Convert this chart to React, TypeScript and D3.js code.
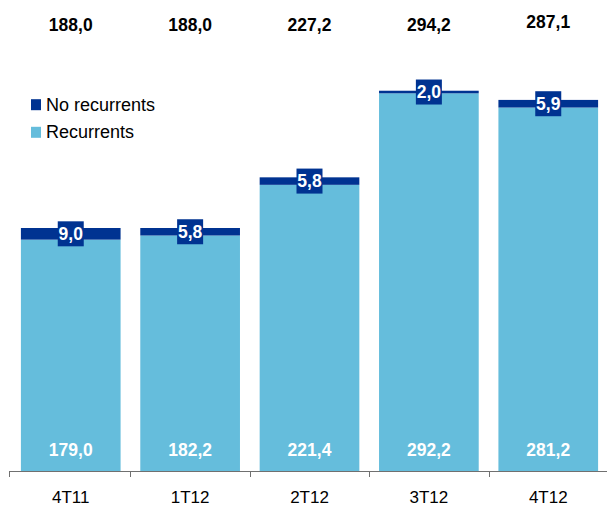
import React from "react";
import * as d3 from "d3";

const categories = ["4T11", "1T12", "2T12", "3T12", "4T12"];
const recurrents = [179.0, 182.2, 221.4, 292.2, 281.2];
const noRecurrents = [9.0, 5.8, 5.8, 2.0, 5.9];
const totals = ["188,0", "188,0", "227,2", "294,2", "287,1"];

const LIGHT = "#65BDDC";
const DARK = "#003391";
const FONT = "Arial, 'Liberation Sans', sans-serif";

const fmt = (v: number) => v.toFixed(1).replace(".", ",");

export default function App() {
  const ref = React.useRef<SVGSVGElement>(null);

  React.useEffect(() => {
    const svg = d3.select(ref.current);
    svg.selectAll("*").remove();

    const width = 607;
    const baseY = 471;

    const x = d3
      .scaleBand()
      .domain(categories)
      .range([11, 608])
      .paddingInner(0.165)
      .paddingOuter(0.083);
    const y = d3.scaleLinear().domain([0, 188]).range([baseY, 228]);

    const g = svg.append("g");

    // recurrents (bottom)
    g.selectAll("rect.rec")
      .data(categories)
      .enter()
      .append("rect")
      .attr("class", "rec")
      .attr("x", (d) => x(d)!)
      .attr("width", x.bandwidth())
      .attr("y", (d, i) => y(recurrents[i]))
      .attr("height", (d, i) => baseY - y(recurrents[i]))
      .attr("fill", LIGHT);

    // no recurrents (top)
    g.selectAll("rect.nrec")
      .data(categories)
      .enter()
      .append("rect")
      .attr("class", "nrec")
      .attr("x", (d) => x(d)!)
      .attr("width", x.bandwidth())
      .attr("y", (d, i) => y(recurrents[i] + noRecurrents[i]))
      .attr("height", (d, i) => y(recurrents[i]) - y(recurrents[i] + noRecurrents[i]))
      .attr("fill", DARK);

    categories.forEach((c, i) => {
      const cx = x(c)! + x.bandwidth() / 2;
      const cy = (y(recurrents[i]) + y(recurrents[i] + noRecurrents[i])) / 2;
      // boxed label for no recurrents
      g.append("rect")
        .attr("x", cx - 13)
        .attr("y", cy - 12.5)
        .attr("width", 26)
        .attr("height", 25)
        .attr("fill", DARK);
      g.append("text")
        .attr("x", cx)
        .attr("y", cy + 6)
        .attr("text-anchor", "middle")
        .attr("font-family", FONT)
        .attr("font-weight", "bold")
        .attr("font-size", 17.5)
        .attr("fill", "white")
        .text(fmt(noRecurrents[i]));

      // recurrents labels
      g.append("text")
        .attr("x", cx)
        .attr("y", 456)
        .attr("text-anchor", "middle")
        .attr("font-family", FONT)
        .attr("font-weight", "bold")
        .attr("font-size", 17.5)
        .attr("fill", "white")
        .text(fmt(recurrents[i]));

      // totals
      g.append("text")
        .attr("x", cx)
        .attr("y", i === 4 ? 28.3 : 31.3)
        .attr("text-anchor", "middle")
        .attr("font-family", FONT)
        .attr("font-weight", "bold")
        .attr("font-size", 17.5)
        .attr("fill", "black")
        .text(totals[i]);

      // category labels
      g.append("text")
        .attr("x", cx)
        .attr("y", 502.5)
        .attr("text-anchor", "middle")
        .attr("font-family", FONT)
        .attr("font-size", 17)
        .attr("fill", "black")
        .text(c);
    });

    // axis line and ticks
    g.append("line")
      .attr("x1", 9)
      .attr("x2", width)
      .attr("y1", baseY + 0.5)
      .attr("y2", baseY + 0.5)
      .attr("stroke", "#707070")
      .attr("stroke-width", 1);
    const step = x.step();
    const tickXs = categories.map((c) => x(c)! - (step - x.bandwidth()) / 2);
    tickXs.forEach((tx, i) => {
      const px = i === 0 ? 9.5 : Math.round(tx) + 0.5;
      g.append("line")
        .attr("x1", px)
        .attr("x2", px)
        .attr("y1", baseY)
        .attr("y2", baseY + 6)
        .attr("stroke", "#707070");
    });

    // legend
    const legend = [
      { label: "No recurrents", color: DARK },
      { label: "Recurrents", color: LIGHT },
    ];
    legend.forEach((l, i) => {
      const base = 110.7 + i * 27.6;
      g.append("rect")
        .attr("x", 31)
        .attr("y", base - 11.5)
        .attr("width", 10)
        .attr("height", 11)
        .attr("fill", l.color);
      g.append("text")
        .attr("x", 46)
        .attr("y", base)
        .attr("font-family", FONT)
        .attr("font-size", 18)
        .attr("fill", "black")
        .text(l.label);
    });
  }, []);

  return (
    <svg
      ref={ref}
      width={607}
      height={506}
      style={{ position: "absolute", left: 0, top: 0 }}
    />
  );
}
